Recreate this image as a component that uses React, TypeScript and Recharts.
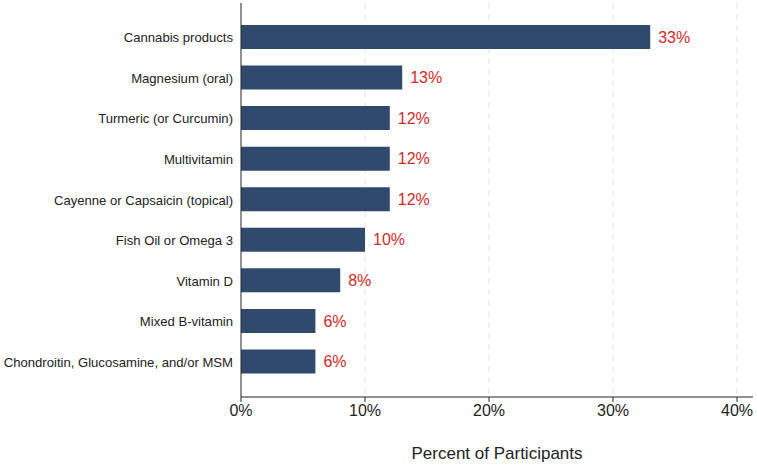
import { BarChart, Bar, XAxis, YAxis, CartesianGrid, LabelList, Label } from "recharts";

const supplements = [
  "Cannabis products",
  "Magnesium (oral)",
  "Turmeric (or Curcumin)",
  "Multivitamin",
  "Cayenne or Capsaicin (topical)",
  "Fish Oil or Omega 3",
  "Vitamin D",
  "Mixed B-vitamin",
  "Chondroitin, Glucosamine, and/or MSM",
];
const percents = [33, 13, 12, 12, 12, 10, 8, 6, 6];
const xTicks = [0, 10, 20, 30, 40];

const data = supplements.map((name, i) => ({ name, pct: percents[i] }));

// plain single-line tick so the long label does not wrap
function NameTick({ x, y, payload }: any) {
  return (
    <text x={x} y={y} dy={5} textAnchor="end" fontSize={13.1} fill="#222">
      {payload.value}
    </text>
  );
}

export default function App() {
  return (
    <div style={{ position: "absolute", left: 0, top: 0, background: "#fff" }}>
      <BarChart
        width={757}
        height={468}
        data={data}
        layout="vertical"
        margin={{ top: 3, right: 4, left: 0, bottom: 0 }}
        style={{ fontFamily: "Arial, 'Liberation Sans', sans-serif" }}
      >
        <CartesianGrid
          horizontal={false}
          strokeDasharray="6 5"
          stroke="#e3e3e3"
          verticalValues={[10, 20, 30, 40]}
        />
        <XAxis
          type="number"
          domain={[0, 40]}
          ticks={xTicks}
          tickFormatter={(v) => `${v}%`}
          padding={{ left: 0, right: 16 }}
          height={71}
          stroke="#222"
          tickSize={5}
          tick={{ fontSize: 16, fill: "#222" }}
          tickMargin={3}
        >
          <Label value="Percent of Participants" position="insideBottom" offset={9} style={{ fontSize: 17, fill: "#222" }} />
        </XAxis>
        <YAxis
          type="category"
          dataKey="name"
          width={241}
          padding={{ top: 14, bottom: 15 }}
          stroke="#222"
          tickLine={false}
          tickSize={0}
          tickMargin={8}
          interval={0}
          tick={<NameTick />}
        />
        <Bar dataKey="pct" fill="#2f4a6d" barSize={24} isAnimationActive={false}>
          <LabelList
            dataKey="pct"
            position="right"
            offset={8}
            formatter={(v: number) => `${v}%`}
            style={{ fontSize: 16, fill: "#d12a2a" }}
          />
        </Bar>
      </BarChart>
    </div>
  );
}
